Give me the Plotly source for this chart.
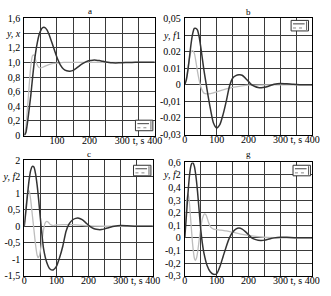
import plotly.graph_objects as go

# ---------------- data ----------------
A_T = [0,5,10,15,20,25,30,35,40,45,50,55,60,65,70,75,80,90,100,110,120,130,140,150,160,170,180,190,200,210,220,230,240,250,260,270,280,290,300,320,340,360,380,400]
A_Y = [0,0.04,0.18,0.36,0.55,0.77,0.98,1.14,1.27,1.37,1.43,1.47,1.48,1.47,1.44,1.39,1.33,1.20,1.07,0.97,0.91,0.885,0.88,0.89,0.92,0.955,0.985,1.01,1.025,1.03,1.03,1.025,1.015,1.005,0.998,0.994,0.993,0.994,0.996,0.999,1.0,1.0,1.0,1.0]
A_T2 = [0,5,10,15,20,25,30,35,40,45,50,55,60,70,80,90,100,120,150,200,300,400]
A_X = [0,0.12,0.38,0.68,0.95,1.09,1.1,1.03,0.96,0.93,0.925,0.93,0.94,0.96,0.975,0.985,0.99,1.0,1.0,1.0,1.0,1.0]

B_T = [0,5,10,15,20,25,30,35,40,45,50,55,60,65,70,80,90,100,110,120,130,140,150,160,170,180,190,200,210,220,230,240,250,260,270,280,290,300,320,340,360,380,400]
B_Y = [0,0.003,0.009,0.017,0.025,0.031,0.034,0.034,0.033,0.029,0.023,0.016,0.009,0.003,-0.003,-0.014,-0.023,-0.026,-0.024,-0.018,-0.010,-0.001,0.004,0.0055,0.006,0.0058,0.004,0.002,0.0,-0.001,-0.0016,-0.0017,-0.0015,-0.001,-0.0003,0.0003,0.0007,0.0008,0.0006,0.0003,0.0001,0,0]
B_T2 = [0,5,10,15,20,25,30,35,40,45,50,55,60,70,80,90,100,120,140,160,180,200,250,300,400]
B_F = [0,0.004,0.010,0.016,0.020,0.0205,0.019,0.014,0.008,0.003,-0.001,-0.0035,-0.005,-0.0055,-0.0053,-0.0048,-0.0042,-0.003,-0.002,-0.0012,-0.0006,-0.0002,0,0,0]

C_T = [0,5,10,15,20,25,30,35,40,45,50,55,60,70,80,90,100,110,120,130,140,150,160,170,180,190,200,210,220,230,240,250,260,270,280,300,320,350,400]
C_Y = [0,0.45,0.95,1.4,1.7,1.82,1.8,1.6,1.25,0.78,0.25,-0.25,-0.68,-1.1,-1.3,-1.33,-1.22,-0.95,-0.6,-0.15,0.08,0.19,0.24,0.245,0.2,0.12,0.03,-0.04,-0.085,-0.1,-0.1,-0.08,-0.05,-0.02,0.0,0.02,0.015,0.0,0.0]
C_T2 = [0,3,6,10,13,16,20,25,30,35,40,43,47,50,55,60,65,70,75,80,90,100,120,150,180,200,250,300,400]
C_F = [0,0.35,0.7,1.0,1.1,1.05,0.8,0.35,-0.1,-0.55,-0.88,-0.95,-0.9,-0.75,-0.45,-0.1,0.1,0.15,0.12,0.06,0.02,0.04,0.05,0.05,0.03,0.01,0,0,0]

G_T = [0,5,10,15,20,25,30,35,40,45,50,55,60,70,80,90,100,110,120,130,140,150,160,170,180,190,200,210,220,230,240,250,260,270,280,300,320,350,400]
G_Y = [0,0.17,0.35,0.5,0.58,0.6,0.57,0.49,0.37,0.22,0.07,-0.04,-0.12,-0.22,-0.27,-0.29,-0.285,-0.23,-0.15,-0.07,0.0,0.045,0.07,0.078,0.07,0.05,0.025,0.0,-0.012,-0.019,-0.02,-0.018,-0.012,-0.005,0.0,0.005,0.004,0.001,0]
G_T2 = [0,3,6,10,13,17,20,25,30,33,37,40,45,50,55,60,63,67,70,75,80,90,100,110,120,130,150,175,200,250,300,400]
G_F = [0,0.15,0.3,0.35,0.32,0.2,0.1,-0.06,-0.16,-0.18,-0.16,-0.12,-0.02,0.08,0.15,0.185,0.19,0.18,0.16,0.12,0.09,0.07,0.065,0.062,0.06,0.055,0.045,0.03,0.02,0.005,0,0]

X_TICKS = [0,50,100,150,200,250,300,350,400]
X_TEXT_A = ["", "", "100", "", "200", "", "300", "t, s", "400"]
X_TEXT = ["0", "", "100", "", "200", "", "300", "t, s", "400"]

A_YT = [0,0.2,0.4,0.6,0.8,1.0,1.2,1.4,1.6]
A_YTXT = ["0","0,2","0,4","0,6","0,8","1,0","1,2","<i>y, x</i>","1,6"]
B_YT = [-0.03,-0.02,-0.01,0,0.01,0.02,0.03,0.04]
B_YTXT = ["-0,03","-0.02","-0,01","0","0.01","0.02","<i>y, f</i>1","0,05"]
C_YT = [-1.5,-1,-0.5,0,0.5,1,1.5,2]
C_YTXT = ["-1,5","-1","-0,5","0","0,5","1","<i>y, f</i>2","2"]
G_YT = [-0.3,-0.2,-0.1,0,0.1,0.2,0.3,0.4,0.5,0.6]
G_YTXT = ["-0,3","-0,2","-0,1","0","0,1","0,2","0,3","0,4","<i>y, f</i>2","0,6"]

TITLES = ["a", "b", "c", "g"]

# ---------------- layout helpers ----------------
W, H = 331, 296
FONT = "Liberation Serif"
DARK = "#333333"
LIGHT = "#bdbdbd"
GRID = "#3a3a3a"

def xd(x0, x1):
    return [x0 / W, x1 / W]

def yd(y0, y1):
    return [1 - y1 / H, 1 - y0 / H]

panels = [
    (22, 157, 13, 135),
    (188, 320, 13, 134),
    (22, 155, 161, 281),
    (188, 320, 163, 281),
]
title_y = [5, 6, 154, 154]
yranges = [[0, 1.6], [-0.03, 0.04], [-1.5, 2], [-0.3, 0.6]]
ytv = [A_YT, B_YT, C_YT, G_YT]
ytt = [A_YTXT, B_YTXT, C_YTXT, G_YTXT]
xtt = [X_TEXT_A, X_TEXT, X_TEXT, X_TEXT]
series = [
    (A_T, A_Y, A_T2, A_X),
    (B_T, B_Y, B_T2, B_F),
    (C_T, C_Y, C_T2, C_F),
    (G_T, G_Y, G_T2, G_F),
]

fig = go.Figure()
layout = dict(
    width=W, height=H, autosize=False,
    margin=dict(l=0, r=0, t=0, b=0),
    paper_bgcolor="white", plot_bgcolor="white",
    showlegend=False,
    font=dict(family=FONT, size=10, color="black"),
)
shapes = []
annotations = []

for i, ((x0, x1, y0, y1), yr) in enumerate(zip(panels, yranges)):
    n = "" if i == 0 else str(i + 1)
    xa, ya = "x" + n, "y" + n
    t1, v1, t2, v2 = series[i]
    fig.add_trace(go.Scatter(x=t2, y=v2, mode="lines", xaxis=xa, yaxis=ya,
                             line=dict(color=LIGHT, width=1.3, shape="spline", smoothing=0.6)))
    fig.add_trace(go.Scatter(x=t1, y=v1, mode="lines", xaxis=xa, yaxis=ya,
                             line=dict(color=DARK, width=1.5, shape="spline", smoothing=0.6)))
    layout["xaxis" + n] = dict(
        domain=xd(x0, x1), anchor=ya, range=[0, 400],
        tickvals=X_TICKS, ticktext=xtt[i], ticks="",
        showgrid=True, gridcolor=GRID, gridwidth=1, zeroline=False,
        showline=True, linecolor="black", linewidth=1, mirror=True,
        tickfont=dict(family=FONT, size=10, color="black"), ticklabelstandoff=-5,
    )
    layout["yaxis" + n] = dict(
        domain=yd(y0, y1), anchor=xa, range=yr,
        tickvals=ytv[i], ticktext=ytt[i], ticks="",
        showgrid=True, gridcolor=GRID, gridwidth=1, zeroline=False,
        showline=True, linecolor="black", linewidth=1, mirror=True,
        tickfont=dict(family=FONT, size=10, color="black"), ticklabelstandoff=1,
    )
    annotations.append(dict(text=TITLES[i], xref="paper", yref="paper",
                            x=(x0 + x1) / 2 / W, y=1 - title_y[i] / H,
                            xanchor="center", yanchor="middle", borderpad=0,
                            showarrow=False, font=dict(family=FONT, size=9, color="black")))

legend_boxes = [(137, 155, 119, 130), (298, 316, 15, 26), (135, 153, 166, 177), (300, 318, 166, 177)]
for (lx0, lx1, ly0, ly1) in legend_boxes:
    shapes.append(dict(type="rect", xref="paper", yref="paper",
                       x0=lx0 / W, x1=lx1 / W, y0=1 - ly1 / H, y1=1 - ly0 / H,
                       line=dict(color="#333", width=1), fillcolor="white"))
    ym1 = ly0 + (ly1 - ly0) * 0.33
    ym2 = ly0 + (ly1 - ly0) * 0.72
    shapes.append(dict(type="line", xref="paper", yref="paper",
                       x0=(lx0 + 2) / W, x1=(lx1 - 4) / W, y0=1 - ym1 / H, y1=1 - ym1 / H,
                       line=dict(color="#444", width=1)))
    shapes.append(dict(type="line", xref="paper", yref="paper",
                       x0=(lx0 + 2) / W, x1=(lx1 - 4) / W, y0=1 - ym2 / H, y1=1 - ym2 / H,
                       line=dict(color="#888", width=1, dash="dot")))
    shapes.append(dict(type="line", xref="paper", yref="paper",
                       x0=(lx1 - 2) / W, x1=(lx1 - 2) / W, y0=1 - (ly1 - 1) / H, y1=1 - (ly0 + 1) / H,
                       line=dict(color="#666", width=1)))

layout["shapes"] = shapes
layout["annotations"] = annotations
fig.update_layout(**layout)
fig.write_html("out.html")
